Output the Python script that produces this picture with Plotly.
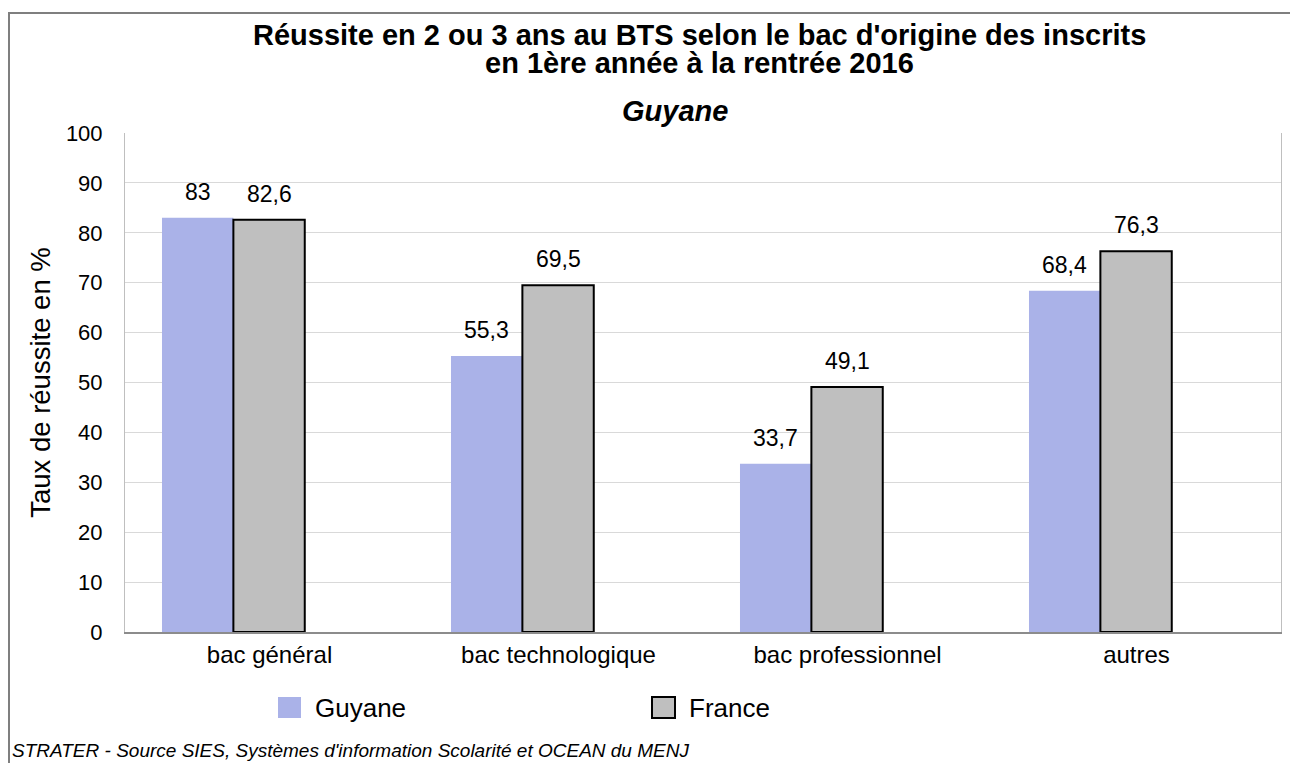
import plotly.graph_objects as go

categories = ["bac général", "bac technologique", "bac professionnel", "autres"]
guyane = [83, 55.3, 33.7, 68.4]
france = [82.6, 69.5, 49.1, 76.3]
series_names = ["Guyane", "France"]

FONT = "Liberation Sans, Arial, sans-serif"
GUY_COLOR = "#AAB2E8"
FR_COLOR = "#BFBFBF"

# plot area in page pixels: x 125..1281, y 133..632
# (the page body has an 8px margin, so the figure itself is 1290x755)
PX_W, PX_H = 1156, 499


def px_x(v):
    return (v - 125) / PX_W


def px_y(v):
    return (632 - v) / PX_H


def fmt(v):
    return f"{v:g}".replace(".", ",")


BAR_W = 0.247
OFF_GUY = -0.372
OFF_FR = OFF_GUY + BAR_W

fig = go.Figure()
fig.add_trace(go.Bar(
    x=categories, y=guyane, name=series_names[0],
    width=BAR_W, offset=OFF_GUY,
    marker=dict(color=GUY_COLOR, line=dict(width=0)),
    showlegend=False,
))
fig.add_trace(go.Bar(
    x=categories, y=france, name=series_names[1],
    width=BAR_W, offset=OFF_FR,
    marker=dict(color=FR_COLOR, line=dict(color="#000000", width=2)),
    showlegend=False,
))

# value labels above each bar
shift_guy = (OFF_GUY + BAR_W / 2) * PX_W / 4
shift_fr = (OFF_FR + BAR_W / 2) * PX_W / 4
for cat, g, f in zip(categories, guyane, france):
    for val, shift in ((g, shift_guy), (f, shift_fr)):
        fig.add_annotation(
            x=cat, y=val, text=fmt(val), showarrow=False,
            xshift=shift, yshift=11, yanchor="bottom",
            font=dict(family=FONT, size=23, color="#000"),
        )

# titles
title_font = dict(family=FONT, size=29, color="#000")
fig.add_annotation(
    text="<b>Réussite en 2 ou 3 ans au BTS selon le bac d'origine des inscrits</b>",
    xref="paper", yref="paper", x=px_x(699), y=px_y(35), showarrow=False,
    font=title_font, yanchor="middle",
)
fig.add_annotation(
    text="<b>en 1ère année à la rentrée 2016</b>",
    xref="paper", yref="paper", x=px_x(699), y=px_y(62.5), showarrow=False,
    font=title_font, yanchor="middle",
)
fig.add_annotation(
    text="<b><i>Guyane</i></b>",
    xref="paper", yref="paper", x=px_x(675), y=px_y(111), showarrow=False,
    font=title_font, yanchor="middle",
)
fig.add_annotation(
    text="<i>STRATER - Source SIES, Systèmes d'information Scolarité et OCEAN du MENJ</i>",
    xref="paper", yref="paper", x=px_x(10), y=px_y(750), showarrow=False,
    xanchor="left", yanchor="middle",
    font=dict(family=FONT, size=19, color="#000"),
)

# legend drawn by hand (large square swatches)
legend_items = [
    (series_names[0], GUY_COLOR, None, 278),
    (series_names[1], FR_COLOR, "#000000", 652),
]
for name, color, edge, x0 in legend_items:
    fig.add_shape(
        type="rect", xref="paper", yref="paper",
        x0=px_x(x0), x1=px_x(x0 + 23), y0=px_y(718), y1=px_y(697),
        fillcolor=color,
        line=dict(color=edge if edge else color, width=2 if edge else 0),
    )
    fig.add_annotation(
        text=name, xref="paper", yref="paper",
        x=px_x(x0 + 35), y=px_y(708), showarrow=False,
        xanchor="left", yanchor="middle",
        font=dict(family=FONT, size=26, color="#000"),
    )

# outer frame
fig.add_shape(
    type="rect", xref="paper", yref="paper",
    x0=px_x(9), x1=px_x(1320), y0=px_y(800), y1=px_y(13),
    line=dict(color="#7F7F7F", width=2), layer="below",
)

fig.update_layout(
    width=1290, height=755,
    margin=dict(l=117, r=17, t=125, b=131),
    paper_bgcolor="white", plot_bgcolor="white",
    barmode="overlay",
    font=dict(family=FONT, size=22, color="#000"),
    showlegend=False,
    xaxis=dict(
        range=[-0.5, 3.5],
        showgrid=False, showline=True, linecolor="#8C8C8C", linewidth=1.5,
        ticks="", tickfont=dict(size=24),
    ),
    yaxis=dict(
        range=[0, 100], dtick=10, showgrid=True, gridcolor="#D9D9D9",
        showline=True, linecolor="#BFBFBF", linewidth=1, mirror=True,
        zeroline=False, ticks="", ticklabelstandoff=17,
        tickfont=dict(size=22),
        title=dict(text="Taux de réussite en %", font=dict(size=27.5), standoff=7),
    ),
)

fig.write_html("out.html")
